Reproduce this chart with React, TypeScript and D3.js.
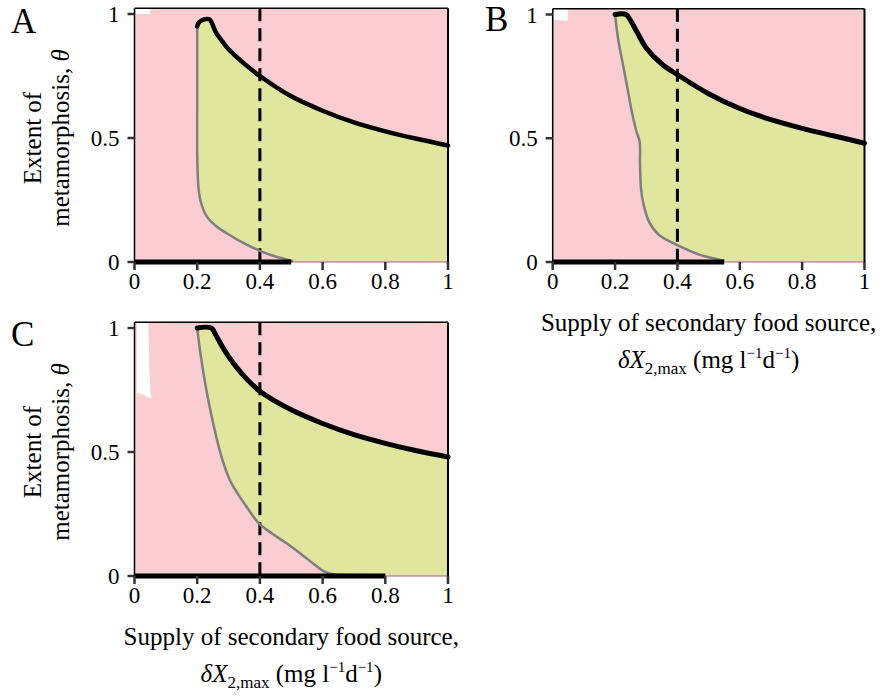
import React from "react";
import * as d3 from "d3";

// ---------- data ----------
const xTicks = [0, 0.2, 0.4, 0.6, 0.8, 1];
const xTickLabels = ["0", "0.2", "0.4", "0.6", "0.8", "1"];
const yTicks = [0, 0.5, 1];
const yTickLabels = ["0", "0.5", "1"];
const dashedX = 0.4;

// Panel A
const blackA: [number, number][] = [
  [0.2, 0.95], [0.205, 0.965], [0.215, 0.975], [0.23, 0.98], [0.24, 0.978], [0.26, 0.925],
  [0.28, 0.89], [0.3, 0.858], [0.35, 0.8], [0.4, 0.75], [0.5, 0.668], [0.6, 0.61],
  [0.7, 0.563], [0.8, 0.527], [0.9, 0.497], [1, 0.47],
];
const grayA: [number, number][] = [
  [0.2, 0.955], [0.2, 0.8], [0.2, 0.6], [0.2, 0.45], [0.201, 0.38], [0.204, 0.3],
  [0.212, 0.24], [0.23, 0.185], [0.26, 0.145], [0.294, 0.116], [0.35, 0.075],
  [0.4, 0.045], [0.45, 0.022], [0.506, 0.003],
];
const zeroA = 0.5;
const whiteA: [number, number][] = [[0.005, 1.024], [0.05, 1.024], [0.05, 1.0], [0.005, 1.0]];

// Panel B
const blackB: [number, number][] = [
  [0.2, 1.0], [0.235, 1.0], [0.25, 0.975], [0.27, 0.93], [0.3, 0.865], [0.35, 0.8],
  [0.4, 0.757], [0.5, 0.68], [0.6, 0.62], [0.7, 0.575], [0.8, 0.54], [0.9, 0.51], [1, 0.48],
];
const grayB: [number, number][] = [
  [0.2, 1.0], [0.21, 0.9], [0.225, 0.8], [0.24, 0.7], [0.255, 0.6], [0.268, 0.53],
  [0.279, 0.485], [0.28, 0.4], [0.283, 0.3], [0.29, 0.24], [0.31, 0.16], [0.34, 0.11],
  [0.4, 0.068], [0.47, 0.03], [0.55, 0.005],
];
const zeroB = 0.55;
const whiteB: [number, number][] = [[0.004, 1.024], [0.05, 1.024], [0.048, 0.975], [0.004, 0.978]];

// Panel C
const blackC: [number, number][] = [
  [0.2, 1.0], [0.245, 1.0], [0.26, 0.97], [0.28, 0.925], [0.3, 0.885], [0.35, 0.805],
  [0.4, 0.745], [0.5, 0.67], [0.6, 0.615], [0.7, 0.57], [0.8, 0.535], [0.9, 0.505], [1, 0.48],
];
const grayC: [number, number][] = [
  [0.2, 1.0], [0.21, 0.9], [0.225, 0.78], [0.24, 0.68], [0.262, 0.555], [0.28, 0.47],
  [0.304, 0.387], [0.33, 0.33], [0.357, 0.28], [0.397, 0.212], [0.44, 0.17],
  [0.485, 0.132], [0.53, 0.09], [0.57, 0.05], [0.6, 0.022], [0.63, 0.008],
  [0.7, 0.004], [0.8, 0.003],
];
const zeroC = 0.8;
const whiteC: [number, number][] = [
  [0.007, 1.022], [0.044, 1.022], [0.047, 0.85], [0.052, 0.715], [0.045, 0.72],
  [0.03, 0.73], [0.015, 0.737], [0.007, 0.737],
];

const PINK = "#f9cdd1";
const GREEN = "#e0e69e";
const FONT = "'Liberation Serif', 'Times New Roman', serif";

type Pt = [number, number];

interface PanelProps {
  letter: string;
  black: Pt[];
  gray: Pt[];
  zeroEnd: number;
  white: Pt[];
  xr: [number, number];
  yr: [number, number];
  letterPos: [number, number];
  showYLabel: boolean;
  showXLabel: boolean;
  blackWidth: number;
}

function Panel(p: PanelProps) {
  const x = d3.scaleLinear().domain([0, 1]).range(p.xr);
  const y = d3.scaleLinear().domain([0, 1]).range(p.yr);
  const yTop = y(1.023);
  const line = d3
    .line<Pt>()
    .x((d) => x(d[0]))
    .y((d) => y(d[1]))
    .curve(d3.curveCatmullRom.alpha(0.5));
  const poly = d3
    .line<Pt>()
    .x((d) => x(d[0]))
    .y((d) => y(d[1]));
  const eps = 0.006;
  const grayEnd = p.gray[p.gray.length - 1];
  const greenD =
    (line(p.black) as string) +
    `L${x(1)},${y(eps)}L${x(grayEnd[0])},${y(eps)}L${x(grayEnd[0])},${y(grayEnd[1])}` +
    (line([...p.gray].reverse()) as string).replace(/^M/, "L") +
    "Z";
  const x0 = x(0), x1 = x(1), y0 = y(0);
  const cx = (x0 + x1) / 2;
  const cy = y(0.5);
  return (
    <g>
      <rect x={x0} y={yTop} width={x1 - x0} height={y0 - yTop} fill={PINK} />
      <path d={(poly(p.white) as string) + "Z"} fill="#ffffff" />
      <path d={greenD} fill={GREEN} />
      <line x1={x(dashedX)} x2={x(dashedX)} y1={yTop} y2={y0} stroke="#000" strokeWidth={3} strokeDasharray="13,7" />
      <path d={line(p.gray) as string} fill="none" stroke="#7f7f7f" strokeWidth={2.5} />
      <path d={line(p.black) as string} fill="none" stroke="#000" strokeWidth={p.blackWidth} strokeLinecap="round" />
      {/* frame */}
      <line x1={x0} x2={x1} y1={y0} y2={y0} stroke="#9a6a6a" strokeWidth={1} />
      <line x1={x0} x2={x0} y1={yTop} y2={y0} stroke="#000" strokeWidth={1.5} />
      <line x1={x0} x2={x1} y1={yTop} y2={yTop} stroke="#000" strokeWidth={1.5} />
      <line x1={x1} x2={x1} y1={yTop} y2={y0} stroke="#000" strokeWidth={2} />
      <line x1={x(0)} x2={x(p.zeroEnd)} y1={y0} y2={y0} stroke="#000" strokeWidth={5} />
      {/* ticks */}
      {xTicks.map((t, i) => (
        <g key={"xt" + i}>
          <line x1={x(t)} x2={x(t)} y1={y0} y2={y0 + 8} stroke="#333" strokeWidth={2.5} />
          <text x={x(t)} y={y0 + 27} textAnchor="middle" fontFamily={FONT} fontSize={23} fill="#000">
            {xTickLabels[i]}
          </text>
        </g>
      ))}
      {yTicks.map((t, i) => (
        <g key={"yt" + i}>
          <line x1={x0 - 7} x2={x0} y1={y(t)} y2={y(t)} stroke="#333" strokeWidth={2.5} />
          <text x={x0 - 15} y={y(t) + 8} textAnchor="end" fontFamily={FONT} fontSize={23} fill="#000">
            {yTickLabels[i]}
          </text>
        </g>
      ))}
      <text x={p.letterPos[0]} y={p.letterPos[1]} fontFamily={FONT} fontSize={35} fill="#000">
        {p.letter}
      </text>
      {p.showYLabel && (
        <g fontFamily={FONT} fontSize={25} fill="#000">
          <text transform={`translate(${x0 - 94},${cy}) rotate(-90)`} textAnchor="middle">
            Extent of
          </text>
          <text transform={`translate(${x0 - 66},${cy}) rotate(-90)`} textAnchor="middle">
            metamorphosis, <tspan fontStyle="italic">θ</tspan>
          </text>
        </g>
      )}
      {p.showXLabel && (
        <g fontFamily={FONT} fontSize={25} fill="#000">
          <text x={cx} y={y0 + 69} textAnchor="middle">
            Supply of secondary food source,
          </text>
          <text x={cx} y={y0 + 106} textAnchor="middle">
            <tspan fontStyle="italic">δX</tspan>
            <tspan fontSize={17} dy={6}>2,max</tspan>
            <tspan dy={-6}> (mg l</tspan>
            <tspan fontSize={15} dy={-10}>−1</tspan>
            <tspan dy={10}>d</tspan>
            <tspan fontSize={15} dy={-10}>−1</tspan>
            <tspan dy={10}>)</tspan>
          </text>
        </g>
      )}
    </g>
  );
}

export default function App() {
  return (
    <svg width={884} height={696} style={{ position: "absolute", left: 0, top: 0, background: "#fff" }}>
      <Panel letter="A" black={blackA} gray={grayA} zeroEnd={zeroA} white={whiteA} blackWidth={4.5}
        xr={[134.5, 448]} yr={[262, 14]} letterPos={[11, 33]} showYLabel={true} showXLabel={false} />
      <Panel letter="B" black={blackB} gray={grayB} zeroEnd={zeroB} white={whiteB} blackWidth={5}
        xr={[552.7, 864.5]} yr={[262, 14.5]} letterPos={[485, 31]} showYLabel={false} showXLabel={true} />
      <Panel letter="C" black={blackC} gray={grayC} zeroEnd={zeroC} white={whiteC} blackWidth={5}
        xr={[134.5, 448]} yr={[576, 328]} letterPos={[11, 346]} showYLabel={true} showXLabel={true} />
    </svg>
  );
}
